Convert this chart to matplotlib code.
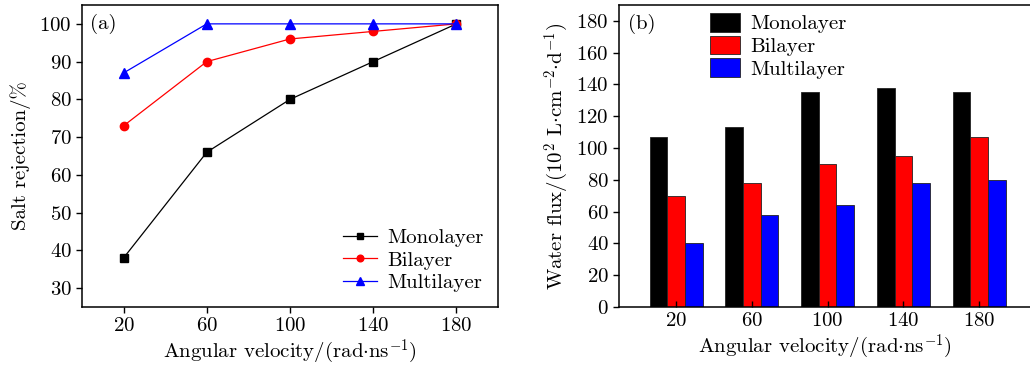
import numpy as np
import matplotlib.pyplot as plt
from matplotlib import rcParams

rcParams['font.family'] = 'serif'
rcParams['font.serif'] = ['cmr10']
rcParams['mathtext.fontset'] = 'cm'
rcParams['axes.formatter.use_mathtext'] = True
rcParams['axes.unicode_minus'] = False
rcParams['font.size'] = 15

# angular velocity (rad/ns)
omega = [20, 60, 100, 140, 180]

# salt rejection (%)
rej_mono = [38, 66, 80, 90, 100]
rej_bi = [73, 90, 96, 98, 100]
rej_multi = [87, 100, 100, 100, 100]

# water flux (10^2 L cm^-2 d^-1)
flux_mono = [107, 113, 135, 138, 135]
flux_bi = [70, 78, 90, 95, 107]
flux_multi = [40, 58, 64, 78, 80]

labels = ['Monolayer', 'Bilayer', 'Multilayer']
colors = ['black', 'red', 'blue']

fig = plt.figure(figsize=(10.30, 3.67), dpi=100)
ax1 = fig.add_axes([0.0796, 0.1635, 0.4039, 0.8229])
ax2 = fig.add_axes([0.6013, 0.1635, 0.3990, 0.8229])

xlab = r'Angular velocity/(rad$\cdot$ns$^{-1}$)'

# (a) salt rejection
ax1.plot(omega, rej_mono, '-s', color=colors[0], lw=0.9, ms=6, label=labels[0])
ax1.plot(omega, rej_bi, '-o', color=colors[1], lw=0.9, ms=6, label=labels[1])
ax1.plot(omega, rej_multi, '-^', color=colors[2], lw=0.9, ms=7, label=labels[2])
ax1.set_xlim(0, 200)
ax1.set_ylim(25, 105)
ax1.set_xticks(omega)
ax1.set_yticks(range(30, 101, 10))
ax1.set_xlabel(xlab, labelpad=2)
ax1.set_ylabel('Salt rejection/%', labelpad=6)
ax1.text(0.02, 0.937, '(a)', transform=ax1.transAxes, va='center', ha='left')
ax1.legend(loc='lower right', frameon=False, handlelength=1.6, handletextpad=0.5,
           labelspacing=0.2, borderaxespad=0.3, bbox_to_anchor=(1.0, 0.0),
           markerscale=0.8)

# (b) water flux, grouped bars
w = 9.3
x = np.array(omega)
ax2.bar(x - w, flux_mono, w, color=colors[0], edgecolor='#222222', lw=0.6, label=labels[0])
ax2.bar(x, flux_bi, w, color=colors[1], edgecolor='#222222', lw=0.6, label=labels[1])
ax2.bar(x + w, flux_multi, w, color=colors[2], edgecolor='#222222', lw=0.6, label=labels[2])
ax2.set_xlim(-10, 207)
ax2.set_ylim(0, 190)
ax2.set_xticks(omega)
ax2.set_yticks(range(0, 181, 20))
ax2.set_xlabel(xlab, labelpad=2)
ax2.set_ylabel(r'Water flux/(10$^2$ L$\cdot$cm$^{-2}$$\cdot$d$^{-1}$)', labelpad=4)
ax2.text(0.022, 0.937, '(b)', transform=ax2.transAxes, va='center', ha='left')
ax2.spines['right'].set_visible(False)
ax2.tick_params(axis='x', direction='in', length=4)
ax2.legend(loc='upper left', frameon=False, handlelength=1.45, handleheight=1.0,
           handletextpad=0.5, labelspacing=0.1, bbox_to_anchor=(0.19, 1.015),
           borderaxespad=0.2)

for ax in (ax1, ax2):
    for s in ax.spines.values():
        s.set_linewidth(1.1)
    ax.tick_params(width=1.0)
ax1.tick_params(length=4)
ax2.tick_params(axis='y', length=4)

fig.savefig('out.png', dpi=100)
